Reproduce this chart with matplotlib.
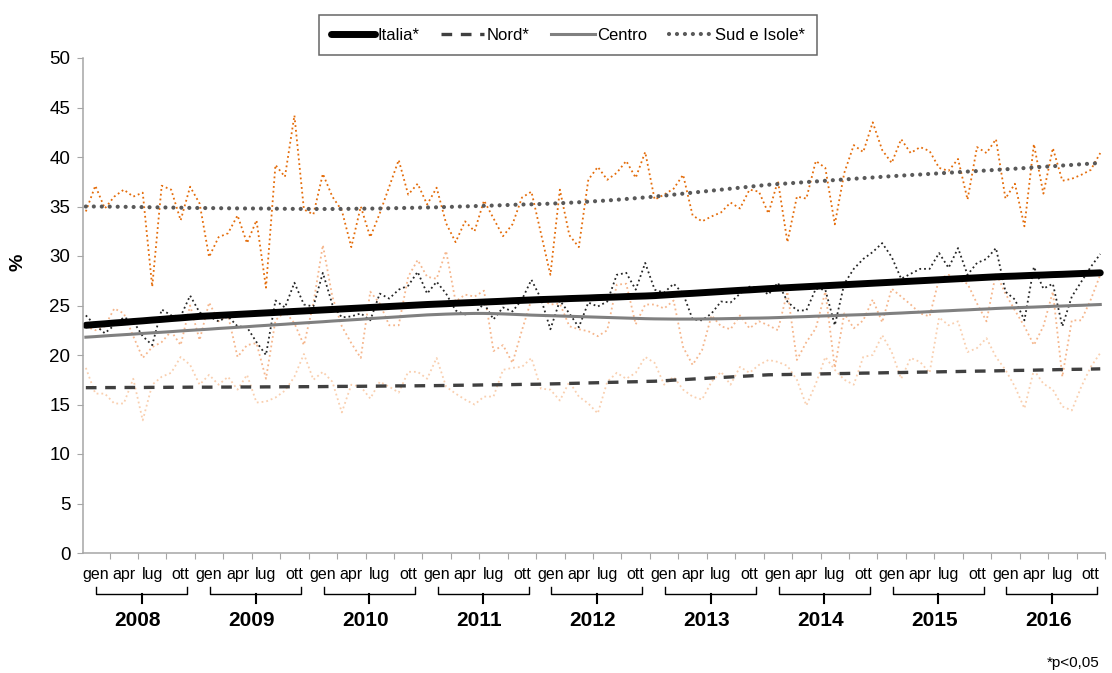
import matplotlib.pyplot as plt
import numpy as np

plt.rcParams['font.family'] = ['Liberation Sans', 'DejaVu Sans']

anni = ['2008', '2009', '2010', '2011', '2012', '2013', '2014', '2015', '2016']
mesi = ['gen', 'apr', 'lug', 'ott']

# valori mensili (%), gen 2008 - dic 2016
italia_mese = [
    24.0, 23.0, 22.2, 23.0, 23.8, 23.4, 21.9, 21.0, 24.6, 24.0, 23.9, 26.0,
    24.3, 23.9, 23.4, 23.9, 22.9, 22.8, 21.3, 20.0, 25.5, 24.8, 27.3, 25.1,
    24.9, 28.3, 25.1, 23.8, 23.9, 24.2, 23.5, 26.2, 25.7, 26.6, 27.0, 28.4,
    26.2, 27.4, 26.2, 24.5, 24.1, 24.2, 25.2, 23.6, 24.8, 24.4, 25.6, 27.6,
    25.7, 22.6, 25.5, 24.2, 22.8, 25.3, 24.9, 25.4, 28.1, 28.3, 26.6, 29.3,
    26.6, 26.3, 27.2, 26.2, 23.6, 23.5, 24.2, 25.4, 25.3, 26.2, 26.9, 26.8,
    26.1, 27.3, 25.4, 24.5, 24.5, 26.7, 26.6, 23.0, 27.2, 28.7, 29.7, 30.4,
    31.3, 29.9, 27.7, 28.2, 28.7, 28.7, 30.3, 28.8, 30.8, 28.1, 29.3, 29.7,
    30.8, 26.4, 25.6, 23.5, 28.9, 26.7, 27.2, 22.9, 25.9, 27.4, 28.9, 30.2,
]
nord_mese = [
    18.7, 16.1, 16.1, 15.1, 15.1, 17.6, 13.4, 17.0, 17.8, 18.2, 19.8, 19.0,
    17.0, 18.0, 17.0, 17.8, 16.5, 18.0, 15.2, 15.3, 15.7, 16.4, 17.8, 20.1,
    17.5, 18.3, 17.3, 14.2, 17.0, 16.8, 15.6, 17.3, 16.8, 16.2, 18.3, 18.3,
    17.6, 19.7, 16.8, 16.1, 15.5, 15.0, 15.8, 15.8, 18.5, 18.7, 18.8, 19.7,
    16.6, 16.5, 15.4, 17.3, 15.8, 15.1, 14.1, 17.3, 18.2, 17.6, 18.2, 19.8,
    19.2, 17.0, 17.8, 16.5, 15.8, 15.5, 17.3, 18.3, 17.0, 18.8, 18.2, 19.0,
    19.5, 19.3, 18.9, 17.5, 14.9, 17.1, 19.8, 18.5, 17.5, 17.0, 19.8, 20.0,
    22.0, 20.3, 17.6, 19.7, 19.3, 18.2, 23.8, 23.0, 23.4, 20.3, 20.7, 21.7,
    19.8, 18.5, 16.8, 14.6, 18.5, 17.1, 16.5, 14.8, 14.4, 16.8, 18.8, 20.2,
]
centro_mese = [
    22.9, 22.5, 22.9, 24.7, 24.2, 21.9, 19.7, 20.8, 21.3, 22.4, 21.0, 25.0,
    21.5, 25.3, 23.4, 24.0, 19.8, 21.0, 21.2, 17.6, 23.5, 24.4, 23.2, 21.0,
    25.2, 31.1, 25.9, 22.9, 21.2, 19.7, 26.4, 25.2, 23.0, 23.0, 27.9, 29.6,
    27.9, 27.7, 30.5, 25.4, 26.1, 25.9, 26.5, 20.4, 21.0, 19.2, 22.5, 25.6,
    25.7, 25.1, 25.2, 22.9, 22.6, 22.4, 21.9, 22.5, 27.1, 27.2, 23.1, 25.1,
    25.1, 24.7, 25.5, 20.8, 19.0, 20.5, 24.0, 22.9, 22.6, 24.0, 22.7, 23.4,
    23.0, 22.5, 26.4, 19.5, 21.3, 22.7, 26.4, 18.7, 24.2, 22.7, 23.5, 25.6,
    23.3, 26.7, 25.9, 25.1, 24.2, 23.9, 27.7, 28.1, 27.6, 27.2, 25.2, 23.4,
    28.3, 26.2, 24.5, 22.9, 21.0, 22.9, 26.4, 17.8, 23.5, 23.5, 25.6, 28.1,
]
sud_mese = [
    34.5, 37.1, 34.8, 36.0, 36.7, 36.0, 36.4, 26.9, 37.1, 36.7, 33.6, 37.0,
    35.3, 29.9, 31.9, 32.3, 34.1, 31.3, 33.6, 26.8, 39.2, 38.0, 44.2, 34.7,
    34.2, 38.3, 36.0, 34.6, 30.9, 35.0, 31.9, 34.3, 37.0, 39.7, 36.2, 37.3,
    35.2, 36.9, 33.3, 31.4, 33.5, 32.5, 35.6, 33.8, 32.0, 33.2, 35.9, 36.5,
    32.3, 28.1, 36.7, 32.1, 30.9, 37.7, 39.0, 37.7, 38.4, 39.6, 37.9, 40.5,
    35.7, 36.2, 36.8, 38.2, 34.1, 33.5, 34.0, 34.4, 35.4, 34.8, 36.7, 36.5,
    34.3, 37.6, 31.4, 36.0, 35.8, 39.6, 38.9, 33.2, 38.4, 41.2, 40.5, 43.5,
    40.7, 39.4, 41.8, 40.4, 41.0, 40.6, 38.9, 38.6, 39.8, 35.7, 41.0, 40.4,
    41.8, 35.8, 37.3, 33.0, 41.3, 36.3, 40.9, 37.6, 37.8, 38.2, 38.7, 40.4,
]

# andamento (trend)
italia_trend = [
    23.00, 23.08, 23.15, 23.23, 23.30, 23.38, 23.45, 23.53, 23.60, 23.68, 23.75, 23.83,
    23.90, 23.95, 24.00, 24.05, 24.10, 24.15, 24.20, 24.25, 24.30, 24.35, 24.40, 24.45,
    24.50, 24.55, 24.60, 24.65, 24.70, 24.75, 24.80, 24.85, 24.90, 24.95, 25.00, 25.05,
    25.10, 25.14, 25.18, 25.23, 25.27, 25.31, 25.35, 25.39, 25.43, 25.48, 25.52, 25.56,
    25.60, 25.63, 25.66, 25.70, 25.73, 25.76, 25.80, 25.83, 25.86, 25.90, 25.93, 25.96,
    26.00, 26.06, 26.12, 26.18, 26.23, 26.29, 26.35, 26.41, 26.47, 26.53, 26.58, 26.64,
    26.70, 26.75, 26.80, 26.85, 26.90, 26.95, 27.00, 27.05, 27.10, 27.15, 27.20, 27.25,
    27.30, 27.35, 27.40, 27.45, 27.50, 27.55, 27.60, 27.65, 27.70, 27.75, 27.80, 27.85,
    27.90, 27.94, 27.97, 28.01, 28.05, 28.08, 28.12, 28.15, 28.19, 28.23, 28.26, 28.30,
]
nord_trend = [
    16.70, 16.70, 16.71, 16.71, 16.72, 16.72, 16.72, 16.73, 16.73, 16.74, 16.74, 16.75,
    16.75, 16.75, 16.76, 16.76, 16.77, 16.77, 16.77, 16.78, 16.78, 16.79, 16.79, 16.80,
    16.80, 16.81, 16.82, 16.83, 16.83, 16.84, 16.85, 16.86, 16.87, 16.88, 16.88, 16.89,
    16.90, 16.91, 16.92, 16.94, 16.95, 16.96, 16.98, 16.99, 17.00, 17.01, 17.03, 17.04,
    17.05, 17.08, 17.10, 17.13, 17.15, 17.18, 17.20, 17.23, 17.25, 17.28, 17.30, 17.33,
    17.35, 17.40, 17.46, 17.51, 17.57, 17.62, 17.68, 17.73, 17.78, 17.84, 17.89, 17.95,
    18.00, 18.02, 18.03, 18.05, 18.07, 18.08, 18.10, 18.12, 18.13, 18.15, 18.17, 18.18,
    18.20, 18.22, 18.23, 18.25, 18.27, 18.28, 18.30, 18.32, 18.33, 18.35, 18.37, 18.38,
    18.40, 18.42, 18.44, 18.45, 18.47, 18.49, 18.51, 18.53, 18.55, 18.56, 18.58, 18.60,
]
centro_trend = [
    21.80, 21.86, 21.93, 21.99, 22.05, 22.11, 22.18, 22.24, 22.30, 22.36, 22.43, 22.49,
    22.55, 22.61, 22.68, 22.74, 22.80, 22.86, 22.93, 22.99, 23.05, 23.11, 23.18, 23.24,
    23.30, 23.36, 23.43, 23.49, 23.55, 23.61, 23.68, 23.74, 23.80, 23.86, 23.93, 23.99,
    24.05, 24.09, 24.13, 24.16, 24.18, 24.20, 24.20, 24.18, 24.15, 24.11, 24.07, 24.03,
    24.00, 23.97, 23.94, 23.91, 23.88, 23.85, 23.82, 23.79, 23.76, 23.73, 23.70, 23.67,
    23.65, 23.64, 23.63, 23.63, 23.63, 23.64, 23.65, 23.66, 23.68, 23.70, 23.72, 23.73,
    23.75, 23.78, 23.82, 23.85, 23.88, 23.92, 23.95, 23.98, 24.02, 24.05, 24.08, 24.12,
    24.15, 24.20, 24.24, 24.29, 24.33, 24.38, 24.43, 24.47, 24.52, 24.56, 24.61, 24.65,
    24.70, 24.74, 24.77, 24.81, 24.84, 24.88, 24.92, 24.95, 24.99, 25.02, 25.06, 25.10,
]
sud_trend = [
    35.00, 35.00, 34.99, 34.98, 34.97, 34.95, 34.94, 34.92, 34.91, 34.89, 34.88, 34.86,
    34.85, 34.84, 34.83, 34.82, 34.81, 34.80, 34.80, 34.79, 34.78, 34.77, 34.76, 34.76,
    34.75, 34.75, 34.75, 34.76, 34.77, 34.78, 34.79, 34.80, 34.82, 34.84, 34.86, 34.88,
    34.90, 34.92, 34.95, 34.98, 35.01, 35.04, 35.07, 35.10, 35.13, 35.17, 35.20, 35.22,
    35.25, 35.29, 35.33, 35.38, 35.43, 35.49, 35.55, 35.61, 35.68, 35.76, 35.84, 35.92,
    36.00, 36.10, 36.20, 36.30, 36.40, 36.50, 36.60, 36.70, 36.80, 36.90, 37.00, 37.10,
    37.20, 37.27, 37.33, 37.40, 37.47, 37.53, 37.60, 37.67, 37.73, 37.80, 37.87, 37.93,
    38.00, 38.06, 38.12, 38.18, 38.23, 38.29, 38.35, 38.41, 38.47, 38.53, 38.58, 38.64,
    38.70, 38.76, 38.82, 38.88, 38.95, 39.01, 39.07, 39.14, 39.20, 39.27, 39.33, 39.40,
]

x = np.arange(len(italia_mese))

fig = plt.figure(figsize=(11.12, 6.73), dpi=100)
ax = fig.add_axes([83 / 1112, 1 - 553 / 673, 1022 / 1112, 495 / 673])

# serie mensili (punteggiate)
ax.plot(x, nord_mese, color='#F9CFAF', lw=1.3, ls=':')
ax.plot(x, centro_mese, color='#F5B68C', lw=1.3, ls=':')
ax.plot(x, sud_mese, color='#E46C0A', lw=1.3, ls=':')
ax.plot(x, italia_mese, color='#262626', lw=1.3, ls=':')

# trend
ax.plot(x, italia_trend, color='black', lw=5, solid_capstyle='round', label='Italia*')
ax.plot(x, nord_trend, color='#404040', lw=2.4, ls=(0, (3.2, 2.6)), label='Nord*')
ax.plot(x, centro_trend, color='#808080', lw=2.2, label='Centro')
ax.plot(x, sud_trend, color='#595959', lw=3.0, ls=(0, (0.01, 1.9)),
        dash_capstyle='round', label='Sud e Isole*')

ax.set_xlim(-0.3, 107.5)
ax.set_ylim(0, 50)
ax.set_yticks(range(0, 51, 5))
for s in ['top', 'right']:
    ax.spines[s].set_visible(False)
for s in ['left', 'bottom']:
    ax.spines[s].set_color('#A6A6A6')
    ax.spines[s].set_linewidth(1.1)

ax.tick_params(axis='y', direction='out', length=4, color='#A6A6A6', labelsize=13.5, pad=5)
ax.set_xticks(np.arange(2.5, 108, 3))
ax.set_xticklabels([])
ax.tick_params(axis='x', which='major', direction='out', length=4, color='#A6A6A6')
ax.set_xticks([12 * k + o for k in range(len(anni)) for o in (1, 4, 7, 10)], minor=True)
ax.set_xticklabels(mesi * len(anni), minor=True)
ax.tick_params(axis='x', which='minor', length=0, labelsize=11.5, pad=10)

# parentesi anni
tr = ax.get_xaxis_transform()
for k, anno in enumerate(anni):
    m = 12 * k
    ax.plot([m + 1.1, m + 1.1, m + 10.7, m + 10.7], [-0.068, -0.083, -0.083, -0.068],
            transform=tr, clip_on=False, color='black', lw=1)
    ax.plot([m + 5.9, m + 5.9], [-0.083, -0.101], transform=tr, clip_on=False,
            color='black', lw=1.5)
    ax.text(m + 5.5, -0.137, anno, transform=tr, ha='center', va='center',
            fontsize=15, fontweight='bold')

fig.text(18 / 1112, 1 - 262 / 673, '%', rotation=90, ha='center', va='center',
         fontsize=14, fontweight='bold')
fig.text(1100 / 1112, 1 - 663 / 673, '*p<0,05', ha='right', va='center', fontsize=11)

leg = ax.legend(loc='upper center', bbox_to_anchor=(568 / 1112, 1 - 15 / 673),
                bbox_transform=fig.transFigure, ncol=4, fontsize=12, frameon=True,
                fancybox=False, handlelength=2.6, handletextpad=0.15, columnspacing=1.3,
                borderpad=0.75, borderaxespad=0)
leg.get_frame().set_edgecolor('#404040')
leg.get_frame().set_linewidth(1.1)

fig.savefig('out.png', dpi=100)
